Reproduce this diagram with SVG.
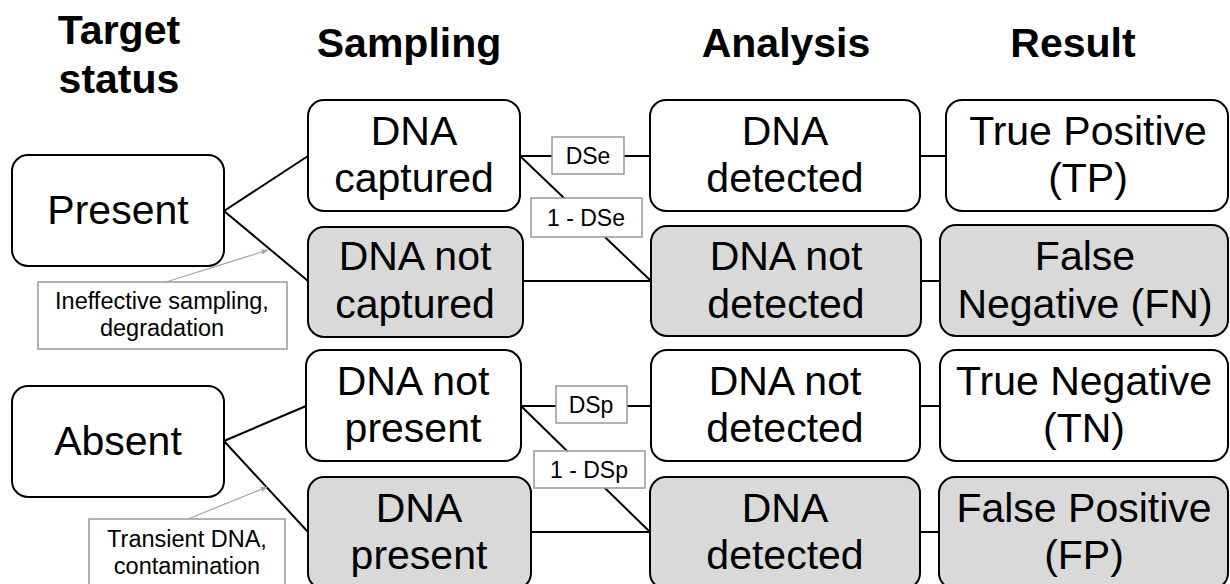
<svg xmlns="http://www.w3.org/2000/svg" width="1230" height="584" viewBox="0 0 1230 584">
<defs>
<marker id="garrow" viewBox="0 0 10 10" refX="9" refY="5" markerWidth="7" markerHeight="7" orient="auto" markerUnits="userSpaceOnUse">
<path d="M0,1 L10,5 L0,9 z" fill="#a6a6a6"/>
</marker>
<style>
.box{fill:#fff;stroke:#000;stroke-width:2}
.gbox{fill:#d9d9d9;stroke:#000;stroke-width:2}
.t{font-family:"Liberation Sans",Arial,sans-serif;font-size:41px;fill:#000;text-anchor:middle}
.h{font-family:"Liberation Sans",Arial,sans-serif;font-size:41px;font-weight:bold;fill:#000;text-anchor:middle}
.lbl{fill:#fff;stroke:#999;stroke-width:1.5}
.lt{font-family:"Liberation Sans",Arial,sans-serif;font-size:23px;fill:#000;text-anchor:middle}
.at{font-family:"Liberation Sans",Arial,sans-serif;font-size:23.5px;fill:#000;text-anchor:middle}
.c{stroke:#000;stroke-width:2;fill:none}
.ga{stroke:#a6a6a6;stroke-width:1.2;fill:none}
</style>
</defs>
<rect width="1230" height="584" fill="#fff"/>

<g id="headers">
<text class="h" x="119" y="44">Target</text>
<text class="h" x="119" y="93">status</text>
<text class="h" x="409" y="57">Sampling</text>
<text class="h" x="786" y="57">Analysis</text>
<text class="h" x="1073" y="57">Result</text>
</g>

<g id="connectors">
<line class="c" x1="224" y1="211" x2="308" y2="156"/>
<line class="c" x1="224" y1="211" x2="308" y2="281"/>
<line class="c" x1="224" y1="441" x2="306" y2="406"/>
<line class="c" x1="224" y1="441" x2="308" y2="532"/>
<line class="c" x1="520" y1="156" x2="650" y2="156"/>
<line class="c" x1="520" y1="156" x2="651" y2="281"/>
<line class="c" x1="523" y1="281" x2="651" y2="281"/>
<line class="c" x1="521" y1="406" x2="651" y2="406"/>
<line class="c" x1="521" y1="406" x2="650" y2="532"/>
<line class="c" x1="531" y1="532" x2="650" y2="532"/>
<line class="c" x1="920" y1="156" x2="946" y2="156"/>
<line class="c" x1="921" y1="281" x2="940" y2="281"/>
<line class="c" x1="920" y1="406" x2="940" y2="406"/>
<line class="c" x1="920" y1="532" x2="939" y2="532"/>
<line class="ga" x1="166" y1="282" x2="268" y2="250" marker-end="url(#garrow)"/>
<line class="ga" x1="188" y1="519" x2="267" y2="487" marker-end="url(#garrow)"/>
</g>

<g id="label-dse"><rect class="lbl" x="552" y="137" width="72" height="37"/><text class="lt" x="588" y="164">DSe</text></g>
<g id="label-1dse"><rect class="lbl" x="531" y="198" width="111" height="39"/><text class="lt" x="586" y="226">1 - DSe</text></g>
<g id="label-dsp"><rect class="lbl" x="556" y="386" width="71" height="37"/><text class="lt" x="591" y="413">DSp</text></g>
<g id="label-1dsp"><rect class="lbl" x="534" y="451" width="111" height="37"/><text class="lt" x="589" y="478">1 - DSp</text></g>

<g id="note-ineffective"><rect class="lbl" x="38" y="282" width="249" height="67"/><text class="at" x="162" y="309">Ineffective sampling,</text><text class="at" x="162" y="336">degradation</text></g>
<g id="note-transient"><rect class="lbl" x="89" y="519" width="196" height="75"/><text class="at" x="187" y="547">Transient DNA,</text><text class="at" x="187" y="574">contamination</text></g>

<g id="present"><rect class="box" x="12" y="155" width="212" height="111" rx="16"/><text class="t" x="118" y="224">Present</text></g>
<g id="absent"><rect class="box" x="12" y="386" width="212" height="111" rx="16"/><text class="t" x="118" y="455">Absent</text></g>

<g id="dna-captured"><rect class="box" x="308" y="100" width="212" height="111" rx="16"/><text class="t" x="414" y="145">DNA</text><text class="t" x="414" y="192">captured</text></g>
<g id="dna-not-captured"><rect class="gbox" x="308" y="227" width="215" height="110" rx="16"/><text class="t" x="415" y="270">DNA not</text><text class="t" x="415" y="318">captured</text></g>
<g id="dna-not-present"><rect class="box" x="306" y="350" width="215" height="111" rx="16"/><text class="t" x="413" y="395">DNA not</text><text class="t" x="413" y="442">present</text></g>
<g id="dna-present"><rect class="gbox" x="308" y="477" width="223" height="112" rx="16"/><text class="t" x="419" y="522">DNA</text><text class="t" x="419" y="569">present</text></g>

<g id="dna-detected"><rect class="box" x="650" y="100" width="270" height="111" rx="16"/><text class="t" x="785" y="145">DNA</text><text class="t" x="785" y="192">detected</text></g>
<g id="dna-not-detected-1"><rect class="gbox" x="651" y="226" width="270" height="110" rx="16"/><text class="t" x="786" y="270">DNA not</text><text class="t" x="786" y="318">detected</text></g>
<g id="dna-not-detected-2"><rect class="box" x="651" y="350" width="269" height="111" rx="16"/><text class="t" x="785" y="395">DNA not</text><text class="t" x="785" y="442">detected</text></g>
<g id="dna-detected-2"><rect class="gbox" x="650" y="477" width="270" height="112" rx="16"/><text class="t" x="785" y="522">DNA</text><text class="t" x="785" y="569">detected</text></g>

<g id="true-positive"><rect class="box" x="946" y="100" width="282" height="111" rx="16"/><text class="t" x="1088" y="145">True Positive</text><text class="t" x="1088" y="192">(TP)</text></g>
<g id="false-negative"><rect class="gbox" x="940" y="225" width="288" height="111" rx="16"/><text class="t" x="1085" y="270">False</text><text class="t" x="1085" y="318">Negative (FN)</text></g>
<g id="true-negative"><rect class="box" x="940" y="350" width="288" height="111" rx="16"/><text class="t" x="1084" y="395">True Negative</text><text class="t" x="1084" y="442">(TN)</text></g>
<g id="false-positive"><rect class="gbox" x="939" y="477" width="289" height="112" rx="16"/><text class="t" x="1084" y="522">False Positive</text><text class="t" x="1084" y="569">(FP)</text></g>
</svg>
